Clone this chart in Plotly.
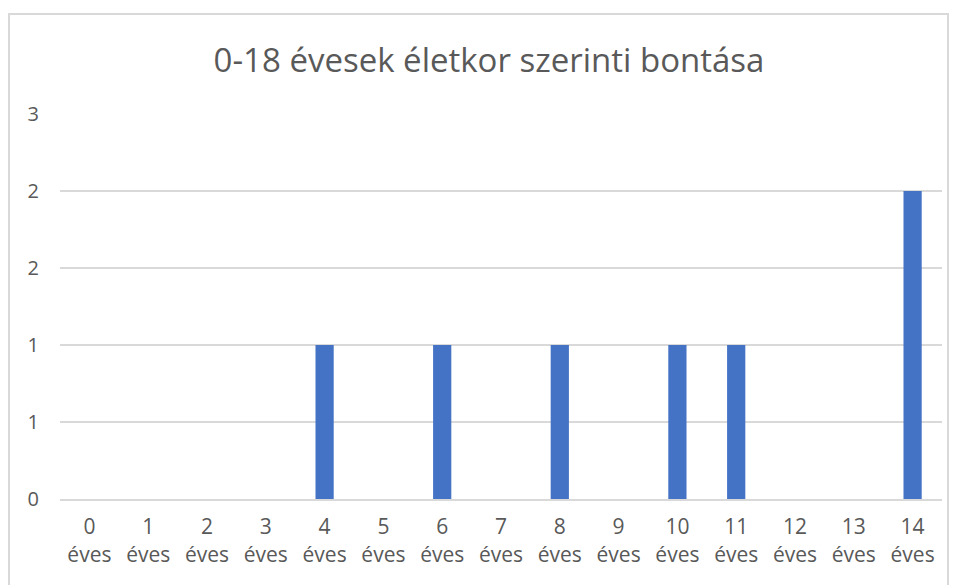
import plotly.graph_objects as go

categories = [f"{i}<br>éves" for i in range(15)]
values = [0, 0, 0, 0, 1, 0, 1, 0, 1, 0, 1, 1, 0, 0, 2]
ytick_vals = [0, 0.5, 1, 1.5, 2, 2.5]
ytick_text = ["0", "1", "1", "2", "2", "3"]
title_text = "0-18 évesek életkor szerinti bontása"

W, H = 958, 585
OFF = 8  # page body margin offset
L, R, T, B = 60 - OFF, 16 + OFF, 114 - OFF, 86 + OFF
pw, ph = W - L - R, H - T - B

def px_x(px):
    return (px - OFF - L) / pw

def px_y(py):
    return (H - B - (py - OFF)) / ph

FONT = "Open Sans, sans-serif"
GRAY = "#595959"

fig = go.Figure(go.Bar(x=categories, y=values, marker_color="#4472C4",
                       marker_line_width=0))

fig.update_layout(
    width=W, height=H,
    margin=dict(l=L, r=R, t=T, b=B),
    paper_bgcolor="white", plot_bgcolor="white",
    bargap=0.69,
    showlegend=False,
    title=dict(text=title_text, x=(489 - OFF) / W, xanchor="center",
               y=1 - (60 - OFF) / H,
               yanchor="middle", font=dict(family=FONT, size=33, color=GRAY)),
    font=dict(family=FONT, color=GRAY),
    shapes=[dict(type="rect", xref="paper", yref="paper",
                 x0=px_x(9), x1=px_x(948), y0=px_y(620), y1=px_y(14),
                 line=dict(color="#D9D9D9", width=2), fillcolor="rgba(0,0,0,0)",
                 layer="below")],
)
fig.update_xaxes(showgrid=False, showline=True, linecolor="#D9D9D9", linewidth=2,
                 ticks="", tickfont=dict(size=21, color=GRAY, family=FONT),
                 ticklabelstandoff=8)
fig.update_yaxes(range=[0, 2.5], tickvals=ytick_vals, ticktext=ytick_text,
                 showgrid=True, gridcolor="#D9D9D9", gridwidth=2,
                 zeroline=False, showline=False, ticks="",
                 tickfont=dict(size=20, color=GRAY, family=FONT),
                 ticklabelstandoff=20)

fig.write_html("out.html")
